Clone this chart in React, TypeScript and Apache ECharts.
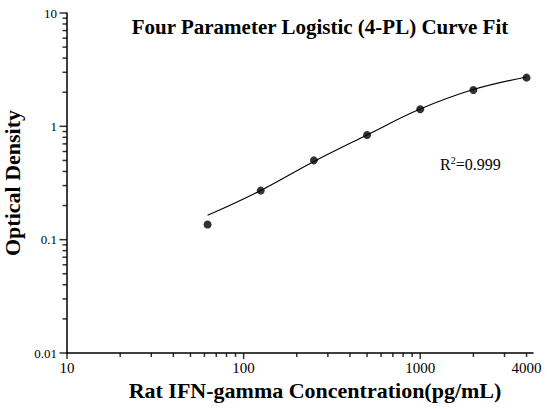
import React, { useEffect, useRef } from "react";
import * as echarts from "echarts";

const concentrations = [62.5, 125, 250, 500, 1000, 2000, 4000];
const odValues = [0.136, 0.271, 0.501, 0.838, 1.413, 2.09, 2.69];
const curveX = [62.5, 125, 250, 500, 1000, 2000, 4000];
const curveY = [0.164, 0.272, 0.49, 0.84, 1.42, 2.11, 2.72];

const xLabelValues = [10, 100, 1000, 4000];
const xMajorTicks = [10, 100, 1000];
const xMinorTicks = [20, 30, 40, 50, 60, 70, 80, 90, 200, 300, 400, 500, 600, 700, 800, 900, 2000, 3000, 4000];
const yMajorTicks = [0.01, 0.1, 1, 10];
const yMinorTicks = [
  0.02, 0.03, 0.04, 0.05, 0.06, 0.07, 0.08, 0.09,
  0.2, 0.3, 0.4, 0.5, 0.6, 0.7, 0.8, 0.9,
  2, 3, 4, 5, 6, 7, 8, 9,
];

const titleText = "Four Parameter Logistic (4-PL) Curve Fit";
const xName = "Rat IFN-gamma Concentration(pg/mL)";
const yName = "Optical Density";
const r2Text = "{a|R}{s|2}{a|=0.999}";

const SERIF = '"Liberation Serif", "Times New Roman", serif';
const X_MIN = 10;
const X_MAX = 4350;
const Y_MIN = 0.01;
const Y_MAX = 10;

function tickSeries(data: number[][], size: number[], offset: number[]) {
  return {
    type: "scatter",
    silent: true,
    clip: false,
    data,
    symbol: "rect",
    symbolSize: size,
    symbolOffset: offset,
    itemStyle: { color: "#000" },
    z: 4,
  };
}

export default function App() {
  const ref = useRef<HTMLDivElement>(null);
  useEffect(() => {
    if (!ref.current) return;
    const chart = echarts.init(ref.current, null, { renderer: "svg" });
    chart.setOption({
      animation: false,
      backgroundColor: "#fff",
      title: {
        text: titleText,
        left: 315,
        top: 11,
        textAlign: "center",
        textStyle: { fontFamily: SERIF, fontWeight: "bold", fontSize: 21, color: "#000" },
      },
      grid: { left: 67, right: 14, top: 13, bottom: 56, containLabel: false, outerBoundsMode: "none" },
      xAxis: {
        type: "log",
        min: X_MIN,
        max: X_MAX,
        name: xName,
        nameLocation: "middle",
        nameGap: 26,
        nameTextStyle: { fontFamily: SERIF, fontWeight: "bold", fontSize: 22, color: "#000", padding: [0, 0, 0, 30] },
        axisLine: { show: true, lineStyle: { color: "#000", width: 1.5 } },
        axisTick: { show: false },
        axisLabel: {
          show: true,
          customValues: xLabelValues,
          fontFamily: SERIF,
          fontSize: 15,
          color: "#000",
          margin: 7,
          formatter: (v: number) => String(v),
        },
        splitLine: { show: false },
      },
      yAxis: {
        type: "log",
        min: Y_MIN,
        max: Y_MAX,
        name: yName,
        nameLocation: "middle",
        nameGap: 33,
        nameRotate: 90,
        nameTextStyle: { fontFamily: SERIF, fontWeight: "bold", fontSize: 22, color: "#000" },
        axisLine: { show: true, lineStyle: { color: "#000", width: 1.5 } },
        axisTick: { show: false },
        axisLabel: {
          show: true,
          customValues: yMajorTicks,
          fontFamily: SERIF,
          fontSize: 13,
          color: "#000",
          margin: 10,
          formatter: (v: number) => String(v),
        },
        splitLine: { show: false },
      },
      graphic: [
        {
          type: "text",
          left: 440,
          top: 155,
          style: {
            text: r2Text,
            rich: {
              a: { fontFamily: SERIF, fontSize: 16, fill: "#000", verticalAlign: "bottom" },
              s: { fontFamily: SERIF, fontSize: 10, fill: "#000", verticalAlign: "top", padding: [0, 0, 7, 0] },
            },
          },
        },
      ],
      series: [
        {
          type: "line",
          name: "fit",
          data: curveX.map((x, i) => [x, curveY[i]]),
          smooth: 0.4,
          showSymbol: false,
          symbol: "none",
          lineStyle: { color: "#000", width: 1.1 },
          z: 2,
        },
        {
          type: "scatter",
          name: "standards",
          data: concentrations.map((x, i) => [x, odValues[i]]),
          symbol: "circle",
          symbolSize: 8,
          itemStyle: { color: "#000" },
          z: 3,
        },
        tickSeries(xMajorTicks.map((v) => [v, Y_MIN]), [1.5, 6], [0, 3]),
        tickSeries(xMinorTicks.map((v) => [v, Y_MIN]), [1.5, 4], [0, 2]),
        tickSeries(yMajorTicks.map((v) => [X_MIN, v]), [7.5, 1.5], [-3.75, 0]),
        tickSeries(yMinorTicks.map((v) => [X_MIN, v]), [4.5, 1.5], [-2.25, 0]),
      ],
    });
    return () => chart.dispose();
  }, []);
  return <div ref={ref} style={{ width: 547, height: 409, position: "absolute", left: 0, top: 0 }} />;
}
